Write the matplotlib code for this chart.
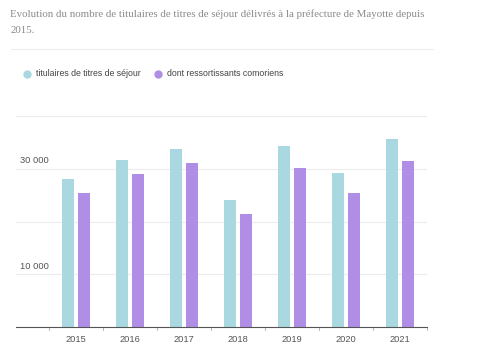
import matplotlib as mpl
mpl.use('Agg')
import matplotlib.pyplot as plt
import matplotlib.transforms as mtransforms
import numpy as np

# données
years = ['2015', '2016', '2017', '2018', '2019', '2020', '2021']
titulaires = [28000, 31700, 33700, 24100, 34300, 29200, 35700]
comoriens = [25500, 29100, 31000, 21400, 30100, 25400, 31500]
y_labels = {10000: '10 000', 30000: '30 000'}

teal = '#a9d8e0'
purple = '#b08ee6'

fig = plt.figure(figsize=(4.85, 3.6), dpi=100)
ax = fig.add_axes([0.033, 0.0917, 0.847, 0.586])

x = np.arange(len(years))
w = 0.222
ax.bar(x - 0.148, titulaires, w, color=teal, zorder=2)
ax.bar(x + 0.148, comoriens, w, color=purple, zorder=2)

ax.set_xlim(-1.11, 6.5)
ax.set_ylim(0, 40000)

# grille horizontale
for v in [10000, 20000, 30000, 40000]:
    ax.axhline(v, color='#ececec', lw=0.8, zorder=1)

# étiquettes y au-dessus des lignes
trans = mtransforms.blended_transform_factory(ax.transAxes, ax.transData)
for v, s in y_labels.items():
    ax.text(0.01, v + 700, s, transform=trans, fontsize=6.7, color='#555555',
            ha='left', va='bottom', family='Liberation Sans')

for s in ['top', 'right', 'left']:
    ax.spines[s].set_visible(False)
ax.spines['bottom'].set_color('#555555')
ax.spines['bottom'].set_linewidth(0.8)

ax.set_yticks([])
ax.set_xticks(x)
ax.set_xticklabels(years, fontsize=6.7, color='#555555', family='Liberation Sans')
ax.tick_params(axis='x', length=0, pad=6)
# petits séparateurs de catégories
for b in np.arange(-0.5, 6.6, 1):
    ax.plot([b, b], [0, -0.015], transform=mtransforms.blended_transform_factory(ax.transData, ax.transAxes),
            color='#aaaaaa', lw=0.6, clip_on=False)

# titre
fig.text(0.021, 0.975, "Evolution du nombre de titulaires de titres de séjour délivrés à la préfecture de Mayotte depuis\n2015.",
         fontsize=7.8, family='Liberation Serif', color='#8a8a8a', ha='left', va='top', linespacing=2.1)

# séparateur
fig.add_artist(plt.Line2D([0.023, 0.893], [1 - 49/360, 1 - 49/360], color='#eeeeee', lw=0.8))

# légende
ly = 1 - 74/360
fig.add_artist(plt.Line2D([27/485], [ly], marker='o', ms=5, color=teal, lw=0))
fig.text(36/485, ly, 'titulaires de titres de séjour', fontsize=6.3, color='#444444', va='center', family='Liberation Sans')
fig.add_artist(plt.Line2D([158/485], [ly], marker='o', ms=5, color=purple, lw=0))
fig.text(167/485, ly, 'dont ressortissants comoriens', fontsize=6.3, color='#444444', va='center', family='Liberation Sans')

plt.savefig('out.png', dpi=100)
